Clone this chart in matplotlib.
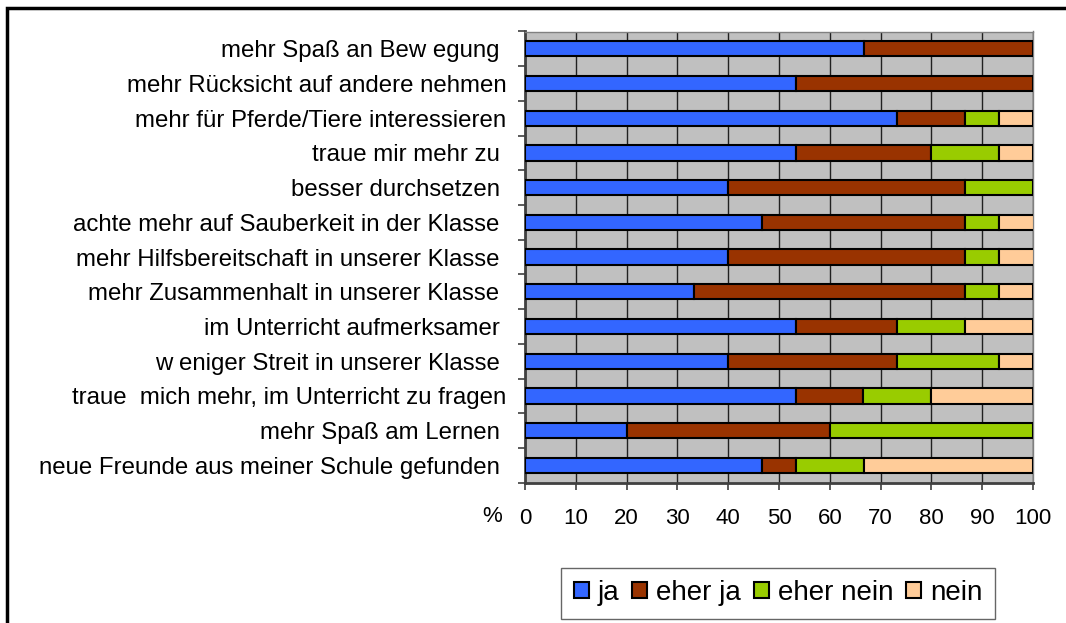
import matplotlib
matplotlib.use("Agg")
import matplotlib.pyplot as plt
from matplotlib.patches import Patch, Rectangle
import numpy as np

plt.rcParams['font.family'] = ['Liberation Sans', 'DejaVu Sans']

categories = [
    "mehr Spaß an Bew egung ",
    "mehr Rücksicht auf andere nehmen",
    "mehr für Pferde/Tiere interessieren",
    "traue mir mehr zu ",
    "besser durchsetzen ",
    "achte mehr auf Sauberkeit in der Klasse ",
    "mehr Hilfsbereitschaft in unserer Klasse ",
    "mehr Zusammenhalt in unserer Klasse ",
    "im Unterricht aufmerksamer ",
    "w eniger Streit in unserer Klasse ",
    "traue  mich mehr, im Unterricht zu fragen",
    "mehr Spaß am Lernen ",
    "neue Freunde aus meiner Schule gefunden ",
]
ja       = [66.7, 53.3, 73.3, 53.3, 40.0, 46.7, 40.0, 33.3, 53.3, 40.0, 53.3, 20.0, 46.7]
eher_ja  = [33.3, 46.7, 13.3, 26.7, 46.7, 40.0, 46.7, 53.3, 20.0, 33.3, 13.3, 40.0, 6.7]
eher_nein= [0.0,  0.0,  6.7, 13.3, 13.3, 6.7,  6.7,  6.7, 13.3, 20.0, 13.3, 40.0, 13.3]
nein     = [0.0,  0.0,  6.7,  6.7, 0.0,  6.7,  6.7,  6.7, 13.4,  6.7, 20.1, 0.0, 33.3]
series_names = ["ja", "eher ja", "eher nein", "nein"]
colors = ["#3366FF", "#993300", "#99CC00", "#FFCC99"]
xticks = list(range(0, 101, 10))

W, H = 1066, 623
fig = plt.figure(figsize=(W/100, H/100), dpi=100)
ax = fig.add_axes([525/W, 1-482.7/H, (1033-525)/W, (482.7-31.5)/H])
ax.set_facecolor("#C0C0C0")

n = len(categories)
ypos = np.arange(n)
left = np.zeros(n)
for vals, name, col in zip([ja, eher_ja, eher_nein, nein], series_names, colors):
    v = np.array(vals)
    mask = v > 0
    ax.barh(ypos[mask], v[mask], left=left[mask], height=0.44, color=col,
            edgecolor="black", linewidth=1.5, zorder=3)
    left += v

ax.set_xlim(0, 100)
ax.set_ylim(n - 0.5, -0.5)
ax.set_xticks(xticks)
ax.set_xticklabels([str(t) for t in xticks], fontsize=16)
ax.set_yticks(ypos)
ax.set_yticklabels(categories, fontsize=17.3)
ax.set_yticks(np.arange(n + 1) - 0.5, minor=True)
ax.tick_params(axis='y', which='major', length=0, pad=13.5)
ax.tick_params(axis='y', which='minor', length=5, width=1.2, color="#404040")
ax.tick_params(axis='x', length=5, width=1.2, color="#404040", pad=13)
ax.grid(axis='x', color="#202020", linewidth=1, zorder=1)
ax.set_axisbelow(True)
for s in ['left', 'bottom']:
    ax.spines[s].set_color("#404040")
    ax.spines[s].set_linewidth(2)
for s in ['right', 'top']:
    ax.spines[s].set_color("#808080")
    ax.spines[s].set_linewidth(1)

fig.text(492/W, 1-516/H, "%", ha='center', va='center', fontsize=16)

handles = [Patch(facecolor=c, edgecolor='black', linewidth=1.5, label=nm)
           for c, nm in zip(colors, series_names)]
leg = fig.legend(handles=handles, loc='center', bbox_to_anchor=(778/W, 1-593/H),
                 ncol=4, fontsize=20, frameon=True, fancybox=False,
                 edgecolor="#404040", handlelength=0.54, handleheight=0.54,
                 handletextpad=0.32, columnspacing=0.47, borderpad=0.45,
                 borderaxespad=0)
leg.get_frame().set_linewidth(1)

fig.patches.append(Rectangle((7/W, -0.1), 2, 1 - 8/H + 0.1, transform=fig.transFigure,
                             fill=False, edgecolor='black', linewidth=2.5))

fig.savefig("out.png", dpi=100)
